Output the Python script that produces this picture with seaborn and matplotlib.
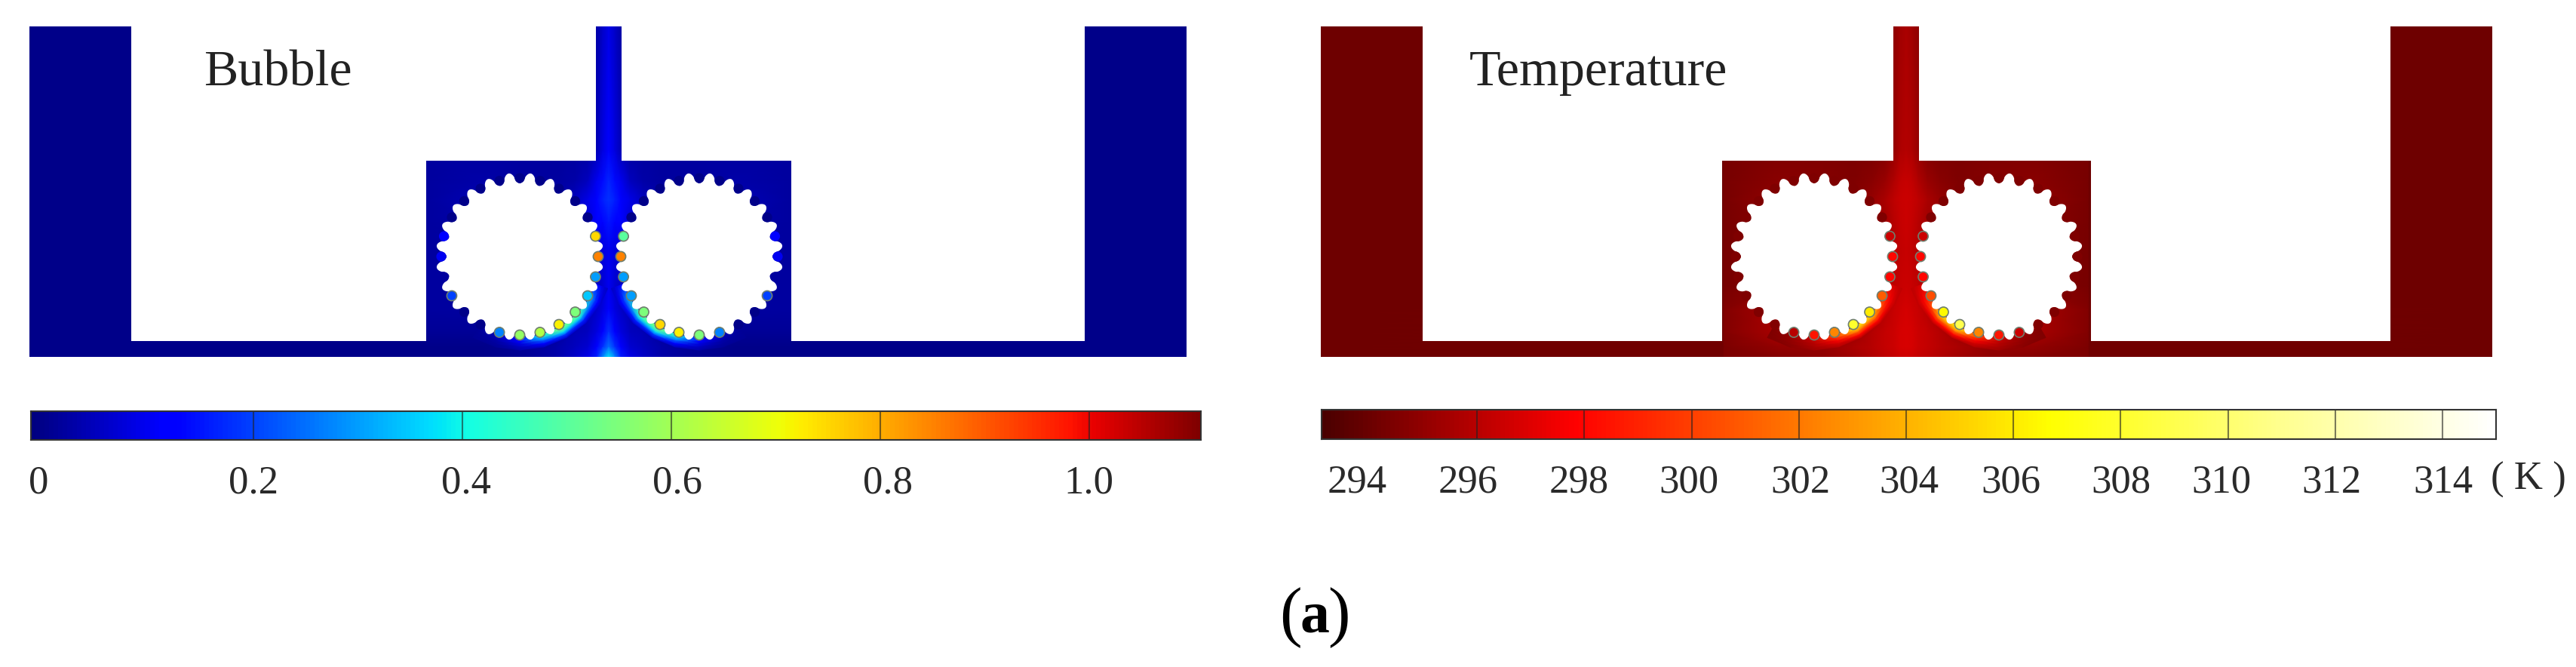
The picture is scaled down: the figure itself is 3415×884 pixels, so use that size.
import numpy as np
import matplotlib.pyplot as plt
from matplotlib.colors import LinearSegmentedColormap
from matplotlib.patches import Polygon
import seaborn as sns

# --- DATA ---
BUBBLE_TICKS = [0, 0.2, 0.4, 0.6, 0.8, 1.0]
BUBBLE_LABELS = ['0', '0.2', '0.4', '0.6', '0.8', '1.0']
BUBBLE_RANGE = (-0.013, 1.107)
TEMP_TICKS = [294, 296, 298, 300, 302, 304, 306, 308, 310, 312, 314]
TEMP_LABELS = ['294', '296', '298', '300', '302', '304', '306', '308', '310', '312', '314']
TEMP_RANGE = (293.1, 315.0)

# field table: rows are y, columns are distance from the stem axis
FIELD_Y = [35, 200, 240, 265, 295, 330, 380, 410, 440, 460, 473]
FIELD_DX = [0, 8, 16, 28, 45, 70, 110, 170, 241, 243, 800]
BUBBLE_FIELD = [
    [.09, .06, .03, .01, 0, 0, 0, 0, 0, 0, 0],
    [.12, .08, .04, .02, .02, .02, .02, .02, .02, 0, 0],
    [.17, .14, .10, .05, .03, .02, .02, .03, .02, 0, 0],
    [.18, .16, .13, .09, .05, .03, .02, .04, .02, 0, 0],
    [.15, .13, .11, .07, .04, .02, .02, .03, .02, 0, 0],
    [.10, .08, .07, .04, .02, .02, .02, .02, .02, 0, 0],
    [.10, .07, .05, .03, .02, .02, .02, .02, .02, 0, 0],
    [.12, .08, .06, .04, .02, .02, .02, .02, .02, 0, 0],
    [.18, .12, .08, .05, .04, .02, .01, .01, .01, 0, 0],
    [.25, .18, .12, .07, .05, .03, .01, 0, 0, 0, 0],
    [.38, .28, .16, .09, .06, .03, .01, 0, 0, 0, 0],
]
TEMP_FIELD = [
    [295.6, 295.4, 294.9, 294.3, 294.2, 294.1, 294.1, 294.1, 294.1, 294.1, 294.1],
    [295.9, 295.7, 295.1, 294.6, 294.4, 294.4, 294.5, 294.5, 294.3, 294.1, 294.1],
    [296.4, 296.2, 295.8, 295.2, 294.8, 294.5, 294.7, 294.8, 294.3, 294.1, 294.1],
    [296.5, 296.4, 296.1, 295.6, 295.1, 294.6, 294.8, 295.0, 294.3, 294.1, 294.1],
    [296.5, 296.3, 296.0, 295.4, 294.9, 294.4, 294.6, 294.8, 294.3, 294.1, 294.1],
    [296.4, 296.2, 295.9, 295.4, 294.7, 294.4, 294.5, 294.6, 294.3, 294.1, 294.1],
    [296.5, 296.4, 296.1, 295.6, 294.9, 294.5, 294.5, 294.6, 294.3, 294.1, 294.1],
    [296.7, 296.6, 296.4, 296.0, 295.2, 294.6, 294.6, 295.6, 294.6, 294.2, 294.1],
    [296.8, 296.7, 296.5, 296.3, 295.9, 295.2, 294.8, 295.6, 294.6, 294.2, 294.1],
    [296.8, 296.7, 296.5, 296.3, 296.0, 295.6, 295.0, 295.0, 294.4, 294.2, 294.1],
    [296.6, 296.5, 296.3, 296.1, 295.8, 295.4, 294.9, 294.7, 294.4, 294.2, 294.1],
]

# wall layer under the gears: rows are radius, columns are angle from the stem side
WALL_R = [108, 112, 116, 120, 124]
WALL_THETA = [20, 30, 45, 60, 75, 90, 105, 120]
BUBBLE_WALL = [
    [.12, .30, .50, .56, .40, .14, .04, .01],
    [.11, .26, .44, .50, .34, .12, .04, .01],
    [.09, .18, .30, .36, .22, .08, .03, .01],
    [.07, .11, .16, .19, .12, .05, .02, .01],
    [.06, .07, .07, .07, .05, .03, .01, .01],
]
TEMP_WALL = [
    [296.8, 299.0, 305.0, 306.0, 300.5, 296.5, 295.2, 294.5],
    [296.7, 298.4, 303.5, 304.5, 299.5, 296.2, 295.1, 294.5],
    [296.5, 297.6, 300.5, 301.0, 297.6, 295.9, 295.0, 294.5],
    [296.3, 296.9, 298.0, 298.0, 296.6, 295.6, 294.9, 294.5],
    [296.1, 296.2, 296.2, 296.0, 295.8, 295.3, 294.8, 294.5],
]

# notch values round each gear, every 15 degrees starting on the stem side
NOTCH_ANGLES = [-15, 0, 15, 30, 45, 60, 75, 90, 105, 120, 135, 150, 165, 180, 195,
                210, 225, 240, 255, 270, 285, 300, 315, 330]
BUBBLE_NOTCH_L = [.75, .85, .30, .35, .55, .72, .62, .58, .27, 0, 0, .20, .02, .10, .12,
                  0, 0, 0, 0, 0, 0, 0, 0, 0]
BUBBLE_NOTCH_R = [.50, .85, .30, .30, .55, .75, .72, .55, .27, 0, 0, .20, .02, .10, .12,
                  0, 0, 0, 0, 0, 0, 0, 0, 0]
TEMP_NOTCH_L = [296.5, 298, 298, 301, 306, 308, 302.5, 298.5, 296, 294.6, 294.5, 294.5, 294.5, 294.5, 294.5,
                294.5, 294.5, 294.5, 294.5, 294.5, 294.5, 294.5, 294.5, 294.5]
TEMP_NOTCH_R = [296.5, 298, 298, 300.5, 306.5, 309, 302.5, 298.5, 296.5, 294.6, 294.5, 294.5, 294.5, 294.5, 294.5,
                294.5, 294.5, 294.5, 294.5, 294.5, 294.5, 294.5, 294.5, 294.5]

# --- FIGURE ---
W, H = 3415, 884
GEAR_CY = 340
SERIF = ['Liberation Serif', 'DejaVu Serif']
# label centres do not sit exactly under the ticks in the original
BUBBLE_LABEL_PX = [51, 336, 618, 898, 1177, 1443]
TEMP_LABEL_PX = [1799, 1946, 2093, 2239, 2387, 2531, 2666, 2812, 2945, 3091, 3239]

TEMP_CMAP = LinearSegmentedColormap.from_list(
    'temp', [(0, '#4a0000'), (0.215, '#ff0000'), (0.62, '#ffff00'), (0.82, '#ffff90'), (1, '#ffffff')])


def dibujar_panel(ax, x0, x1, stem_x, box, gears, field, wall, notch_l, notch_r, cmap, rango):
    vmin, vmax = rango
    # outline of the fluid domain
    dominio = [(x0, 35), (x0 + 135, 35), (x0 + 135, 452), (box[0], 452), (box[0], 213),
               (stem_x - 17, 213), (stem_x - 17, 35), (stem_x + 17, 35), (stem_x + 17, 213),
               (box[1], 213), (box[1], 452), (x1 - 135, 452), (x1 - 135, 35), (x1, 35),
               (x1, 473), (x0, 473)]
    clip = Polygon(dominio, closed=True, transform=ax.transData, fc='none', ec='none')
    ax.add_patch(clip)

    dx = np.array(FIELD_DX, dtype=float)
    xs = np.r_[stem_x - dx[::-1], stem_x + dx[1:]]
    tabla = np.array(field)
    tabla = np.hstack([tabla[:, ::-1], tabla[:, 1:]])
    mesh = ax.pcolormesh(xs, FIELD_Y, tabla, shading='gouraud', cmap=cmap, vmin=vmin, vmax=vmax, zorder=1)
    mesh.set_clip_path(clip)

    ang = np.radians(WALL_THETA)
    rad = np.array(WALL_R, dtype=float)
    for cx, lado in zip(gears, [1, -1]):
        X = cx + lado * np.outer(rad, np.cos(ang))
        Y = GEAR_CY + np.outer(rad, np.sin(ang))
        anillo = ax.pcolormesh(X, Y, np.array(wall), shading='gouraud', cmap=cmap, vmin=vmin, vmax=vmax, zorder=2)
        anillo.set_clip_path(clip)

    # gear outline, flatter tips than a plain cosine
    t = np.linspace(0, 2 * np.pi, 1441)
    c = np.cos(24 * t)
    r = 104 - 7 * np.sign(c) * np.abs(c) ** 0.7
    notch_ang = np.radians(NOTCH_ANGLES)
    for cx, lado, vals in zip(gears, [1, -1], [notch_l, notch_r]):
        ax.fill(cx + r * np.cos(t), GEAR_CY + r * np.sin(t), color='white', lw=0, zorder=3)
        vals = np.array(vals, dtype=float)
        bordes = ['#6f7f6f' if (v - vmin) / (vmax - vmin) > 0.12 else 'none' for v in vals]
        ax.scatter(cx + lado * 104 * np.cos(notch_ang), GEAR_CY + 104 * np.sin(notch_ang),
                   c=vals, cmap=cmap, vmin=vmin, vmax=vmax, s=90, edgecolors=bordes, linewidths=1.2, zorder=4)


def dibujar_barra(fig, x0, x1, y0, y1, cmap, rango, ticks, labels, label_px):
    vmin, vmax = rango
    cax = fig.add_axes([x0 / W, 1 - y1 / H, (x1 - x0) / W, (y1 - y0) / H])
    n = 512
    tira = np.linspace(vmin, vmax, n)[None, :]
    sns.heatmap(tira, ax=cax, cmap=cmap, vmin=vmin, vmax=vmax, cbar=False, xticklabels=False, yticklabels=False)
    pos = [(v - vmin) / (vmax - vmin) * n for v in ticks]
    cax.vlines(pos[1:], 0, 1, color='#222222', lw=1.5, alpha=0.6)
    cax.set_xticks([(p - x0) / (x1 - x0) * n for p in label_px])
    cax.set_xticklabels(labels, rotation=0, fontsize=38, family=SERIF, color='#2a2a2a')
    cax.tick_params(axis='x', length=0, pad=24)
    for spine in cax.spines.values():
        spine.set_visible(True)
        spine.set_color('#333333')
        spine.set_linewidth(1.5)
    return cax


sns.set_theme(style='white')
plt.rcParams['font.family'] = SERIF

fig = plt.figure(figsize=(W / 100, H / 100), dpi=100, facecolor='white')
ax = fig.add_axes([0, 0, 1, 1])
ax.set_xlim(0, W)
ax.set_ylim(H, 0)
ax.axis('off')

dibujar_panel(ax, 39, 1573, 807, (565, 1049), (689, 927), BUBBLE_FIELD, BUBBLE_WALL,
              BUBBLE_NOTCH_L, BUBBLE_NOTCH_R, 'jet', BUBBLE_RANGE)
dibujar_panel(ax, 1751, 3304, 2527, (2283, 2772), (2405, 2650), TEMP_FIELD, TEMP_WALL,
              TEMP_NOTCH_L, TEMP_NOTCH_R, TEMP_CMAP, TEMP_RANGE)

dibujar_barra(fig, 41, 1592, 545, 583, 'jet', BUBBLE_RANGE, BUBBLE_TICKS, BUBBLE_LABELS, BUBBLE_LABEL_PX)
dibujar_barra(fig, 1752, 3309, 543, 582, TEMP_CMAP, TEMP_RANGE, TEMP_TICKS, TEMP_LABELS, TEMP_LABEL_PX)

ax.text(270, 113, 'Bubble', fontsize=49, va='baseline', color='#222222')
ax.text(1948, 113, 'Temperature', fontsize=49, va='baseline', color='#222222')
ax.text(3352, 636, '( K )', fontsize=38, va='center', ha='center', color='#2a2a2a')
ax.text(1696, 840, '(', fontsize=64, va='baseline', ha='left', color='black')
ax.text(1743, 838, 'a', fontsize=56, va='baseline', ha='center', fontweight='bold', color='black')
ax.text(1790, 840, ')', fontsize=64, va='baseline', ha='right', color='black')

fig.savefig('out.png', dpi=100)
